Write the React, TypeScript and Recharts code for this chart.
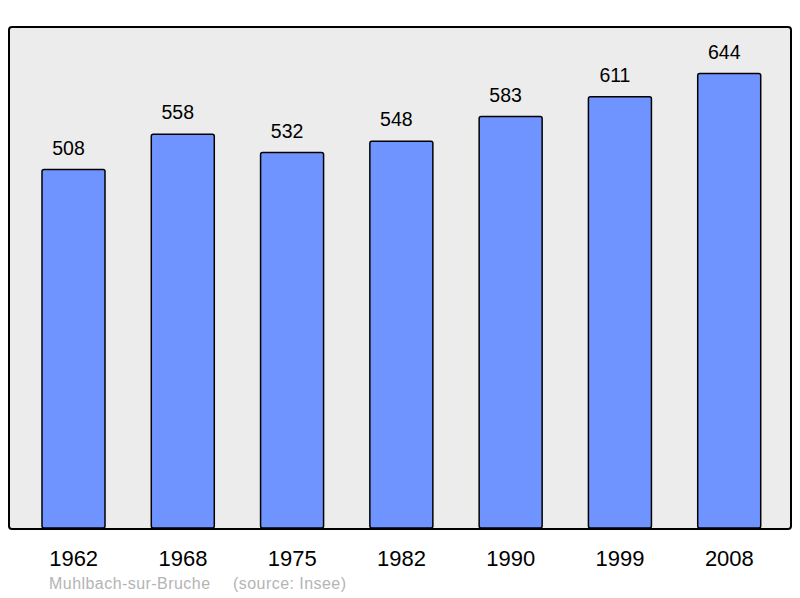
import { BarChart, Bar, XAxis, YAxis, LabelList } from "recharts";

/* ------------------------------------------------------------------ */
/*  Data                                                               */
/* ------------------------------------------------------------------ */

const years = ["1962", "1968", "1975", "1982", "1990", "1999", "2008"];
const population = [508, 558, 532, 548, 583, 611, 644];

const data = years.map((year, i) => ({ year, population: population[i] }));

const FONT = '"Liberation Sans", Arial, sans-serif';

const styles: Record<string, React.CSSProperties> = {
  page: {
    position: "absolute",
    left: 0,
    top: 0,
    width: 800,
    height: 598,
    background: "#fff",
    fontFamily: FONT,
  },
  plotBg: {
    position: "absolute",
    left: 9,
    top: 27,
    width: 782,
    height: 501,
    background: "#ececec",
  },
  plotFrame: {
    position: "absolute",
    left: 8,
    top: 26,
    width: 784,
    height: 504,
    boxSizing: "border-box",
    border: "2px solid #000",
    borderRadius: 4,
    pointerEvents: "none",
  },
  chart: {
    position: "absolute",
    left: 0,
    top: 0,
  },
  footer: {
    position: "absolute",
    top: 576,
    fontSize: 16,
    lineHeight: "15px",
    letterSpacing: 0.45,
    color: "#b4b4b4",
    whiteSpace: "nowrap",
  },
};

export default function App() {
  return (
    <div style={styles.page}>
      <div style={styles.plotBg} />
      <div style={styles.chart}>
        <BarChart
          width={800}
          height={598}
          data={data}
          margin={{ top: 27, right: 9, bottom: 0, left: 9 }}
        >
          <XAxis
            dataKey="year"
            height={70}
            padding={{ left: 10, right: 7 }}
            axisLine={false}
            tickLine={false}
            tickMargin={16}
            interval={0}
            tick={{ fontSize: 22, fill: "#000", fontFamily: FONT }}
          />
          <YAxis hide domain={[0, 710]} />
          <Bar
            dataKey="population"
            barSize={63}
            fill="#7094ff"
            stroke="#000"
            strokeWidth={1.5}
            radius={2}
            isAnimationActive={false}
          >
            <LabelList
              dataKey="population"
              position="top"
              offset={15}
              dx={-5}
              style={{ fontSize: 19.5, fill: "#000", fontFamily: FONT }}
            />
          </Bar>
        </BarChart>
      </div>
      <div style={styles.plotFrame} />
      <div style={{ ...styles.footer, left: 49 }}>Muhlbach-sur-Bruche</div>
      <div style={{ ...styles.footer, left: 233 }}>(source: Insee)</div>
    </div>
  );
}
